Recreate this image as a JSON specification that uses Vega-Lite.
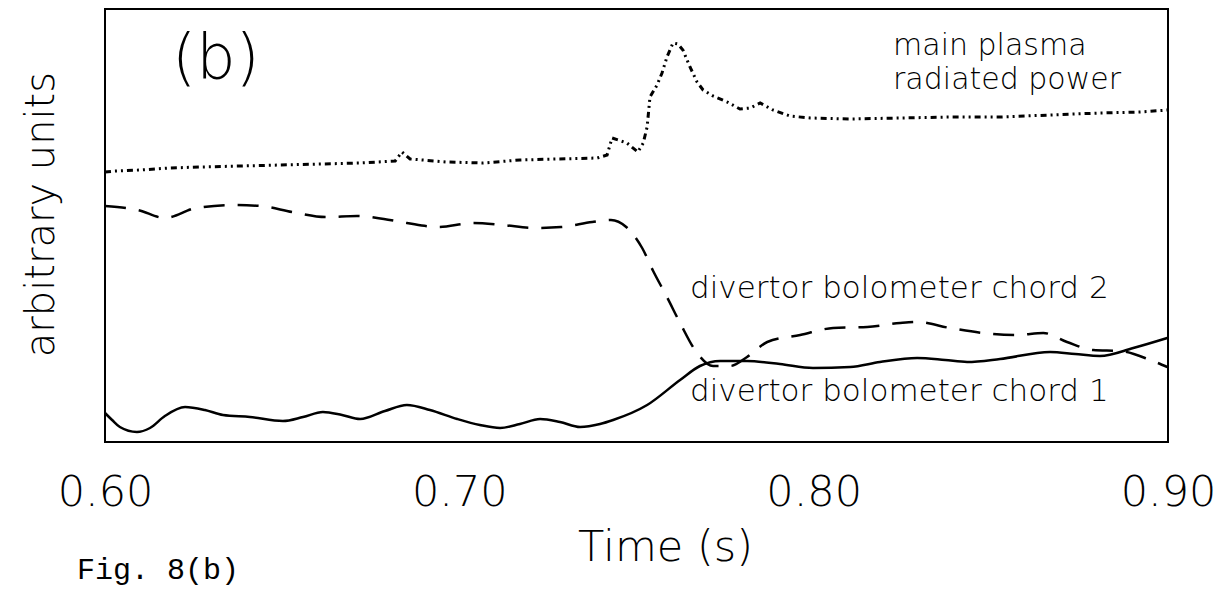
{
  "$schema": "https://vega.github.io/schema/vega-lite/v6.json",
  "width": 1063,
  "height": 433,
  "autosize": {"type": "none"},
  "padding": {"left": 105, "top": 9, "right": 57, "bottom": 150},
  "background": "white",
  "config": {
    "view": {"stroke": "black", "strokeWidth": 2},
    "font": "DejaVu Sans"
  },
  "title": {
    "text": "Fig. 8(b)",
    "orient": "bottom",
    "anchor": "start",
    "frame": "group",
    "font": "Liberation Mono",
    "fontSize": 30,
    "fontWeight": "normal",
    "color": "black",
    "baseline": "alphabetic",
    "dx": -28,
    "offset": 10
  },
  "datasets": {
    "curves": [
      {"s": "chord1", "t": 0.6000, "v": 29},
      {"s": "chord1", "t": 0.6020, "v": 22},
      {"s": "chord1", "t": 0.6042, "v": 15},
      {"s": "chord1", "t": 0.6090, "v": 10},
      {"s": "chord1", "t": 0.6127, "v": 14},
      {"s": "chord1", "t": 0.6169, "v": 26},
      {"s": "chord1", "t": 0.6226, "v": 35},
      {"s": "chord1", "t": 0.6282, "v": 32},
      {"s": "chord1", "t": 0.6333, "v": 27},
      {"s": "chord1", "t": 0.6409, "v": 25},
      {"s": "chord1", "t": 0.6502, "v": 21},
      {"s": "chord1", "t": 0.6559, "v": 25},
      {"s": "chord1", "t": 0.6615, "v": 30},
      {"s": "chord1", "t": 0.6669, "v": 27},
      {"s": "chord1", "t": 0.6720, "v": 23},
      {"s": "chord1", "t": 0.6790, "v": 31},
      {"s": "chord1", "t": 0.6852, "v": 37},
      {"s": "chord1", "t": 0.6917, "v": 32},
      {"s": "chord1", "t": 0.6994, "v": 23},
      {"s": "chord1", "t": 0.7058, "v": 17},
      {"s": "chord1", "t": 0.7115, "v": 14},
      {"s": "chord1", "t": 0.7171, "v": 18},
      {"s": "chord1", "t": 0.7228, "v": 23},
      {"s": "chord1", "t": 0.7284, "v": 20},
      {"s": "chord1", "t": 0.7341, "v": 15},
      {"s": "chord1", "t": 0.7397, "v": 18},
      {"s": "chord1", "t": 0.7434, "v": 22},
      {"s": "chord1", "t": 0.7530, "v": 37},
      {"s": "chord1", "t": 0.7623, "v": 62},
      {"s": "chord1", "t": 0.7679, "v": 76},
      {"s": "chord1", "t": 0.7736, "v": 81},
      {"s": "chord1", "t": 0.7812, "v": 81},
      {"s": "chord1", "t": 0.7905, "v": 78},
      {"s": "chord1", "t": 0.7998, "v": 74},
      {"s": "chord1", "t": 0.8103, "v": 75},
      {"s": "chord1", "t": 0.8187, "v": 80},
      {"s": "chord1", "t": 0.8292, "v": 84},
      {"s": "chord1", "t": 0.8371, "v": 82},
      {"s": "chord1", "t": 0.8433, "v": 80},
      {"s": "chord1", "t": 0.8526, "v": 83},
      {"s": "chord1", "t": 0.8667, "v": 90},
      {"s": "chord1", "t": 0.8738, "v": 88},
      {"s": "chord1", "t": 0.8808, "v": 86},
      {"s": "chord1", "t": 0.8902, "v": 94},
      {"s": "chord1", "t": 0.8998, "v": 104},
      {"s": "chord2", "t": 0.6000, "v": 236},
      {"s": "chord2", "t": 0.6093, "v": 232},
      {"s": "chord2", "t": 0.6169, "v": 224},
      {"s": "chord2", "t": 0.6257, "v": 234},
      {"s": "chord2", "t": 0.6364, "v": 237},
      {"s": "chord2", "t": 0.6440, "v": 236},
      {"s": "chord2", "t": 0.6528, "v": 230},
      {"s": "chord2", "t": 0.6624, "v": 225},
      {"s": "chord2", "t": 0.6711, "v": 226},
      {"s": "chord2", "t": 0.6787, "v": 223},
      {"s": "chord2", "t": 0.6852, "v": 219},
      {"s": "chord2", "t": 0.6940, "v": 215},
      {"s": "chord2", "t": 0.7039, "v": 219},
      {"s": "chord2", "t": 0.7123, "v": 217},
      {"s": "chord2", "t": 0.7211, "v": 214},
      {"s": "chord2", "t": 0.7287, "v": 215},
      {"s": "chord2", "t": 0.7375, "v": 220},
      {"s": "chord2", "t": 0.7428, "v": 222},
      {"s": "chord2", "t": 0.7471, "v": 215},
      {"s": "chord2", "t": 0.7516, "v": 194},
      {"s": "chord2", "t": 0.7547, "v": 171},
      {"s": "chord2", "t": 0.7586, "v": 145},
      {"s": "chord2", "t": 0.7623, "v": 119},
      {"s": "chord2", "t": 0.7671, "v": 89},
      {"s": "chord2", "t": 0.7716, "v": 76},
      {"s": "chord2", "t": 0.7764, "v": 76},
      {"s": "chord2", "t": 0.7812, "v": 85},
      {"s": "chord2", "t": 0.7869, "v": 100},
      {"s": "chord2", "t": 0.7962, "v": 107},
      {"s": "chord2", "t": 0.8055, "v": 114},
      {"s": "chord2", "t": 0.8151, "v": 115},
      {"s": "chord2", "t": 0.8244, "v": 119},
      {"s": "chord2", "t": 0.8292, "v": 120},
      {"s": "chord2", "t": 0.8385, "v": 114},
      {"s": "chord2", "t": 0.8478, "v": 109},
      {"s": "chord2", "t": 0.8574, "v": 107},
      {"s": "chord2", "t": 0.8648, "v": 109},
      {"s": "chord2", "t": 0.8715, "v": 100},
      {"s": "chord2", "t": 0.8789, "v": 92},
      {"s": "chord2", "t": 0.8865, "v": 91},
      {"s": "chord2", "t": 0.8950, "v": 82},
      {"s": "chord2", "t": 0.8998, "v": 75},
      {"s": "main", "t": 0.6000, "v": 270},
      {"s": "main", "t": 0.6028, "v": 271},
      {"s": "main", "t": 0.6099, "v": 272},
      {"s": "main", "t": 0.6183, "v": 274},
      {"s": "main", "t": 0.6268, "v": 275},
      {"s": "main", "t": 0.6381, "v": 276},
      {"s": "main", "t": 0.6494, "v": 277},
      {"s": "main", "t": 0.6607, "v": 278},
      {"s": "main", "t": 0.6720, "v": 279},
      {"s": "main", "t": 0.6819, "v": 281},
      {"s": "main", "t": 0.6838, "v": 290},
      {"s": "main", "t": 0.6861, "v": 283},
      {"s": "main", "t": 0.6965, "v": 280},
      {"s": "main", "t": 0.7067, "v": 279},
      {"s": "main", "t": 0.7171, "v": 282},
      {"s": "main", "t": 0.7276, "v": 283},
      {"s": "main", "t": 0.7389, "v": 284},
      {"s": "main", "t": 0.7417, "v": 287},
      {"s": "main", "t": 0.7431, "v": 304},
      {"s": "main", "t": 0.7473, "v": 299},
      {"s": "main", "t": 0.7504, "v": 290},
      {"s": "main", "t": 0.7519, "v": 299},
      {"s": "main", "t": 0.7530, "v": 315},
      {"s": "main", "t": 0.7538, "v": 345},
      {"s": "main", "t": 0.7558, "v": 357},
      {"s": "main", "t": 0.7572, "v": 369},
      {"s": "main", "t": 0.7586, "v": 385},
      {"s": "main", "t": 0.7603, "v": 399},
      {"s": "main", "t": 0.7617, "v": 398},
      {"s": "main", "t": 0.7631, "v": 392},
      {"s": "main", "t": 0.7651, "v": 375},
      {"s": "main", "t": 0.7671, "v": 360},
      {"s": "main", "t": 0.7688, "v": 352},
      {"s": "main", "t": 0.7716, "v": 346},
      {"s": "main", "t": 0.7756, "v": 340},
      {"s": "main", "t": 0.7792, "v": 333},
      {"s": "main", "t": 0.7821, "v": 334},
      {"s": "main", "t": 0.7849, "v": 339},
      {"s": "main", "t": 0.7885, "v": 332},
      {"s": "main", "t": 0.7933, "v": 326},
      {"s": "main", "t": 0.7990, "v": 324},
      {"s": "main", "t": 0.8103, "v": 323},
      {"s": "main", "t": 0.8244, "v": 324},
      {"s": "main", "t": 0.8385, "v": 325},
      {"s": "main", "t": 0.8526, "v": 325},
      {"s": "main", "t": 0.8667, "v": 327},
      {"s": "main", "t": 0.8808, "v": 329},
      {"s": "main", "t": 0.8921, "v": 330},
      {"s": "main", "t": 0.9000, "v": 332}
    ],
    "tickmarks": [
      {"t": 0.61, "major": false}, {"t": 0.62, "major": false}, {"t": 0.63, "major": false},
      {"t": 0.64, "major": false}, {"t": 0.65, "major": false}, {"t": 0.66, "major": false},
      {"t": 0.67, "major": false}, {"t": 0.68, "major": false}, {"t": 0.69, "major": false},
      {"t": 0.70, "major": true},
      {"t": 0.71, "major": false}, {"t": 0.72, "major": false}, {"t": 0.73, "major": false},
      {"t": 0.74, "major": false}, {"t": 0.75, "major": false}, {"t": 0.76, "major": false},
      {"t": 0.77, "major": false}, {"t": 0.78, "major": false}, {"t": 0.79, "major": false},
      {"t": 0.80, "major": true},
      {"t": 0.81, "major": false}, {"t": 0.82, "major": false}, {"t": 0.83, "major": false},
      {"t": 0.84, "major": false}, {"t": 0.85, "major": false}, {"t": 0.86, "major": false},
      {"t": 0.87, "major": false}, {"t": 0.88, "major": false}, {"t": 0.89, "major": false}
    ],
    "labels": [
      {"id": "b", "text": "(b)", "t": 0.6313, "v": 364},
      {"id": "mp", "text": "main plasma", "t": 0.8224, "v": 387},
      {"id": "mp", "text": "radiated power", "t": 0.8224, "v": 353},
      {"id": "ch", "text": "divertor bolometer chord 2", "t": 0.7651, "v": 144},
      {"id": "ch", "text": "divertor bolometer chord 1", "t": 0.7651, "v": 41}
    ]
  },
  "encoding": {
    "x": {
      "field": "t", "type": "quantitative",
      "scale": {"domain": [0.6, 0.9], "nice": false, "zero": false},
      "axis": {
        "orient": "bottom",
        "values": [0.6, 0.7, 0.8, 0.9],
        "format": ".2f",
        "ticks": false,
        "domain": false,
        "grid": false,
        "labelFont": "DejaVu Sans",
        "labelFontSize": 43,
        "labelFontWeight": 200,
        "labelColor": "black",
        "labelBaseline": "alphabetic",
        "labelPadding": 63,
        "labelFlush": false,
        "labelOverlap": false,
        "title": "Time (s)",
        "titleFont": "DejaVu Sans",
        "titleFontSize": 43,
        "titleFontWeight": 200,
        "titleColor": "black",
        "titleBaseline": "alphabetic",
        "titleAnchor": "start",
        "titleAlign": "center",
        "titleX": 560,
        "titleY": 118
      }
    },
    "y": {
      "field": "v", "type": "quantitative",
      "scale": {"domain": [0, 433], "nice": false, "zero": false},
      "axis": {
        "orient": "left",
        "labels": false,
        "ticks": false,
        "domain": false,
        "grid": false,
        "title": "arbitrary units",
        "titleFont": "DejaVu Sans",
        "titleFontSize": 40,
        "titleFontWeight": 200,
        "titleColor": "black",
        "titleAngle": 270,
        "titleBaseline": "alphabetic",
        "titleAlign": "center",
        "titleX": -52,
        "titleY": 205
      }
    }
  },
  "layer": [
    {
      "data": {"name": "tickmarks"},
      "transform": [{"filter": "!datum.major"}],
      "mark": {"type": "rule", "color": "black", "strokeWidth": 1.6},
      "encoding": {"y": {"datum": 0}, "y2": {"datum": 5}}
    },
    {
      "data": {"name": "tickmarks"},
      "transform": [{"filter": "datum.major"}],
      "mark": {"type": "rule", "color": "black", "strokeWidth": 1.6},
      "encoding": {"y": {"datum": 0}, "y2": {"datum": 10}}
    },
    {
      "data": {"name": "tickmarks"},
      "transform": [{"filter": "!datum.major"}],
      "mark": {"type": "rule", "color": "black", "strokeWidth": 1.6},
      "encoding": {"y": {"datum": 433}, "y2": {"datum": 428}}
    },
    {
      "data": {"name": "tickmarks"},
      "transform": [{"filter": "datum.major"}],
      "mark": {"type": "rule", "color": "black", "strokeWidth": 1.6},
      "encoding": {"y": {"datum": 433}, "y2": {"datum": 423}}
    },
    {
      "data": {"name": "curves"},
      "transform": [{"filter": "datum.s == 'chord1'"}],
      "mark": {"type": "line", "color": "black", "strokeWidth": 2.5, "interpolate": "monotone"}
    },
    {
      "data": {"name": "curves"},
      "transform": [{"filter": "datum.s == 'chord2'"}],
      "mark": {"type": "line", "color": "black", "strokeWidth": 2.5, "strokeDash": [21, 13], "interpolate": "monotone"}
    },
    {
      "data": {"name": "curves"},
      "transform": [{"filter": "datum.s == 'main'"}],
      "mark": {"type": "line", "color": "black", "strokeWidth": 3, "strokeDash": [6, 4, 2, 4, 2, 4], "interpolate": "linear"}
    },
    {
      "data": {"name": "labels"},
      "transform": [{"filter": "datum.id == 'b'"}],
      "mark": {"type": "text", "font": "DejaVu Sans", "fontSize": 62, "fontWeight": 200, "color": "black", "align": "center", "baseline": "alphabetic"},
      "encoding": {"text": {"field": "text"}}
    },
    {
      "data": {"name": "labels"},
      "transform": [{"filter": "datum.id == 'mp'"}],
      "mark": {"type": "text", "font": "DejaVu Sans", "fontSize": 30, "fontWeight": 200, "color": "black", "align": "left", "baseline": "alphabetic"},
      "encoding": {"text": {"field": "text"}}
    },
    {
      "data": {"name": "labels"},
      "transform": [{"filter": "datum.id == 'ch'"}],
      "mark": {"type": "text", "font": "DejaVu Sans", "fontSize": 31, "fontWeight": 200, "color": "black", "align": "left", "baseline": "alphabetic"},
      "encoding": {"text": {"field": "text"}}
    }
  ]
}
